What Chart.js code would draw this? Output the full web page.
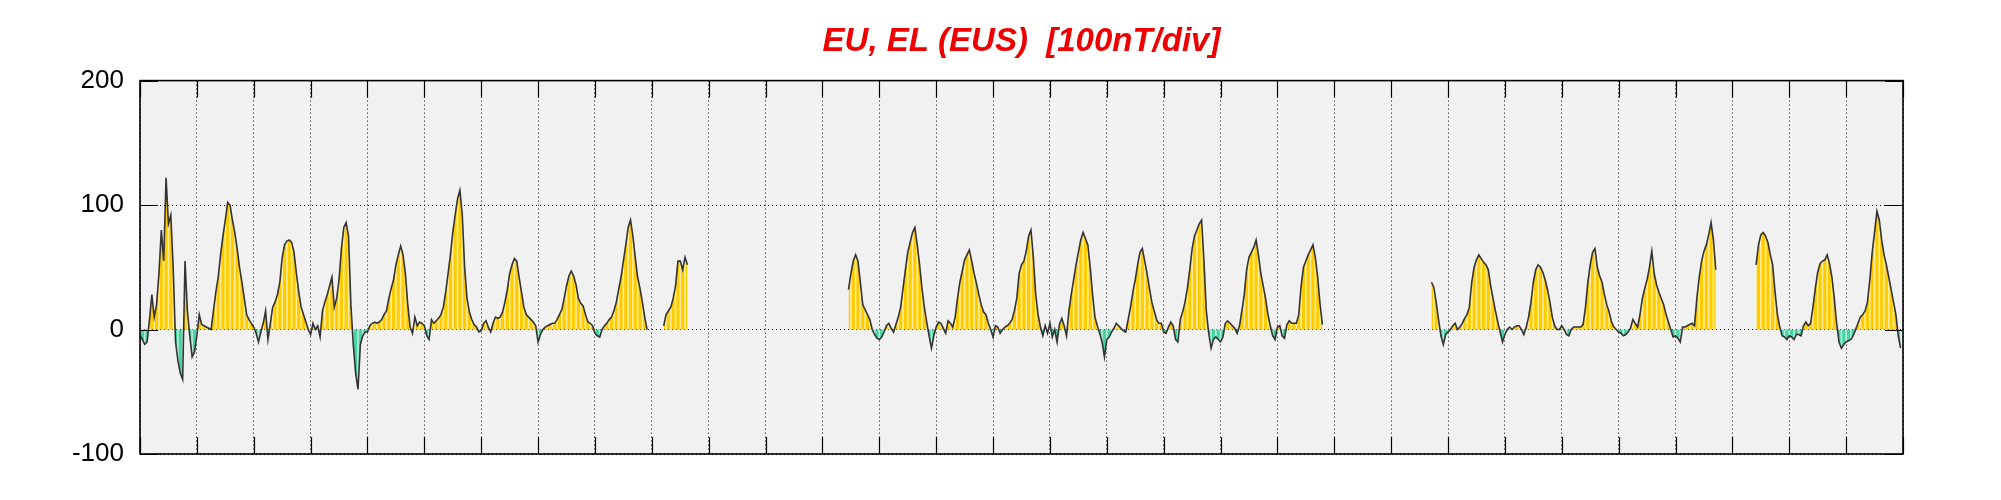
<!DOCTYPE html>
<html>
<head>
<meta charset="utf-8">
<script src="https://cdn.jsdelivr.net/npm/chart.js"></script>
<style>
  html, body { margin: 0; padding: 0; background: #fff; }
  #wrap { width: 2001px; height: 500px; }
</style>
</head>
<body>
<div id="wrap"><canvas id="chartEU"></canvas></div>
<script>
// 31 days of hourly EU/EL values (nT), null where the station has no data
const dayCount = 31;
const hoursPerDay = 24;
const yTicks = [-100, 0, 100, 200];
const titleText = 'EU, EL (EUS)  [100nT/div]';

const euByDay = [
  [-5, -8, -12, -10, 8, 28, 10, 20, 45, 80, 55, 122, 85, 92, 50, -10, -25, -35, -40, 55, 15, -5, -22, -18],
  [-5, 12, 4, 3, 2, 1, 0, 15, 30, 42, 60, 75, 88, 102, 100, 88, 78, 65, 50, 38, 25, 12, 8, 5],
  [2, -3, -10, -2, 5, 15, -8, 5, 18, 22, 28, 38, 58, 68, 71, 72, 70, 62, 45, 30, 18, 12, 6, 0],
  [-4, 5, 0, 3, -6, 15, 22, 28, 35, 42, 18, 25, 40, 65, 82, 86, 75, 20, -12, -35, -48, -12, -5, -2],
  [-2, 3, 5, 6, 5, 6, 8, 12, 15, 25, 33, 40, 52, 60, 67, 60, 45, 20, 2, -3, 10, 3, 6, 5],
  [3, -5, -8, 8, 5, 7, 9, 12, 18, 30, 45, 60, 78, 92, 105, 112, 92, 50, 25, 14, 8, 4, 2, -2],
  [-1, 5, 7, 2, -2, 5, 10, 9, 10, 14, 22, 32, 45, 52, 57, 55, 42, 30, 18, 12, 10, 8, 6, 3],
  [-10, -4, 0, 2, 3, 4, 5, 5, 8, 12, 16, 25, 35, 43, 47, 43, 36, 25, 21, 19, 12, 6, 5, 3],
  [-3, -5, -6, 0, 3, 5, 8, 10, 15, 22, 32, 42, 55, 68, 82, 88, 75, 58, 42, 33, 22, 10, 0, null],
  [null, null, null, null, null, 3, 12, 15, 18, 25, 35, 55, 55, 48, 58, 52, null, null, null, null, null, null, null, null],
  [],
  [],
  [null, null, null, null, null, null, null, null, null, null, null, 32, 45, 55, 60, 55, 38, 20, 16, 12, 8, 0, -4, -7],
  [-8, -6, -2, 3, 5, 1, -2, 4, 10, 18, 33, 48, 62, 70, 78, 82, 68, 52, 33, 18, 6, -5, -15, -5],
  [2, 6, 5, 1, -3, 7, 5, 2, 10, 25, 38, 47, 56, 60, 64, 55, 45, 37, 28, 20, 14, 12, 5, 0],
  [-6, 3, 2, -3, 0, 2, 3, 5, 8, 15, 25, 45, 52, 55, 63, 75, 80, 58, 28, 12, 2, -5, 3, -3],
  [5, -6, 0, -10, 4, 9, 3, -5, 15, 28, 40, 52, 62, 72, 78, 73, 68, 50, 28, 10, 3, -3, -10, -22],
  [-8, -6, -2, 1, 5, 3, 1, -1, -2, 8, 18, 30, 40, 52, 62, 65, 55, 45, 33, 22, 15, 8, 5, 5],
  [-2, -3, 2, 6, 3, -8, -10, 8, 14, 22, 33, 48, 65, 75, 80, 85, 88, 55, 15, -3, -15, -8, -6, -8],
  [-10, -6, 5, 7, 5, 3, 1, -3, 3, 15, 28, 48, 58, 62, 66, 72, 60, 45, 35, 25, 12, 3, -5, -8],
  [2, 3, -5, -7, 4, 7, 5, 5, 5, 12, 35, 50, 55, 60, 64, 68, 58, 42, 20, 4, null, null, null, null],
  [],
  [null, null, null, null, null, null, null, null, null, null, null, null, null, null, null, null, null, 38, 34, 22, 8, -5, -12, -4],
  [-2, 0, 3, 5, 0, 2, 5, 9, 12, 18, 38, 50, 56, 60, 57, 54, 52, 48, 35, 25, 15, 6, -2, -10],
  [-4, 0, 2, 0, 2, 3, 3, 0, -4, 2, 10, 22, 38, 48, 52, 50, 46, 40, 32, 22, 10, 3, 0, 0],
  [3, 0, -4, -5, 0, 2, 2, 2, 2, 4, 18, 38, 52, 62, 65, 50, 43, 38, 28, 20, 14, 6, 2, 0],
  [-2, -3, -5, -4, -2, 1, 8, 5, 2, 12, 25, 33, 40, 50, 63, 45, 36, 30, 25, 20, 12, 6, 0, -6],
  [-5, -7, -10, 2, 2, 3, 4, 5, 3, 25, 42, 55, 63, 68, 76, 86, 72, 48, null, null, null, null, null, null],
  [null, null, null, null, null, null, null, null, null, null, 52, 68, 76, 78, 75, 70, 60, 52, 30, 12, 2, -5, -6, -8],
  [-5, -6, -8, -4, -4, -5, 3, 6, 3, 5, 18, 33, 46, 53, 55, 56, 60, 53, 42, 25, 5, -10, -15, -12],
  [-10, -9, -8, -5, 0, 5, 10, 12, 15, 22, 40, 62, 78, 95, 88, 72, 60, 52, 42, 32, 22, 12, -5, -15]
];

document.addEventListener('DOMContentLoaded', () => {
  // flatten to {x: day, y: nT}; empty days become gaps
  const points = [];
  for (let d = 0; d < dayCount; d++) {
    const row = euByDay[d] || [];
    for (let h = 0; h < hoursPerDay; h++) {
      const v = row[h];
      points.push({ x: d + h / hoursPerDay, y: v === undefined ? null : v });
    }
  }
  // thin light stripes that the original fill shows every two hours
  const stripes = points.filter((p, i) => i % 2 === 0 && p.y !== null && p.y !== 0);
  const dayTicks = Array.from({ length: dayCount + 1 }, (_, i) => i);

  const framePlugin = {
    id: 'frame',
    beforeDraw(chart) {
      const { ctx, chartArea: a } = chart;
      ctx.save();
      ctx.fillStyle = '#f1f1f1';
      ctx.fillRect(a.left, a.top, a.width, a.height);
      ctx.restore();
    },
    afterDraw(chart) {
      const { ctx, chartArea: a, scales: { x, y } } = chart;
      ctx.save();
      ctx.strokeStyle = '#000';
      ctx.lineWidth = 1.2;
      ctx.beginPath();
      x.ticks.forEach(t => {
        const px = Math.round(x.getPixelForValue(t.value)) + 0.5;
        ctx.moveTo(px, a.top); ctx.lineTo(px, a.top + 17);
        ctx.moveTo(px, a.bottom); ctx.lineTo(px, a.bottom - 17);
      });
      y.ticks.forEach(t => {
        const py = Math.round(y.getPixelForValue(t.value)) + 0.5;
        ctx.moveTo(a.left, py); ctx.lineTo(a.left + 18, py);
        ctx.moveTo(a.right, py); ctx.lineTo(a.right - 18, py);
      });
      ctx.stroke();
      ctx.lineWidth = 1.6;
      ctx.strokeRect(a.left, a.top, a.width, a.height);
      ctx.restore();
    }
  };

  new Chart(document.getElementById('chartEU').getContext('2d'), {
    type: 'line',
    data: {
      datasets: [
        {
          type: 'line',
          label: 'EU/EL',
          data: points,
          borderColor: '#333333',
          borderWidth: 1.6,
          pointRadius: 0,
          fill: false,
          spanGaps: false,
          order: 0
        },
        {
          type: 'bar',
          label: 'stripes',
          data: stripes,
          backgroundColor: 'rgba(255,255,255,0.6)',
          barThickness: 1,
          order: 1
        },
        {
          type: 'line',
          label: 'fill',
          data: points,
          borderWidth: 0,
          borderColor: 'rgba(0,0,0,0)',
          pointRadius: 0,
          spanGaps: false,
          fill: { target: { value: 0 }, above: '#ffcc00', below: '#46d3a2' },
          order: 2
        }
      ]
    },
    options: {
      responsive: true,
      maintainAspectRatio: false,
      animation: false,
      layout: { padding: { left: 0, right: 98, top: 0, bottom: 46 } },
      plugins: {
        legend: { display: false },
        tooltip: { enabled: false },
        title: {
          display: true,
          fullSize: false,
          text: titleText,
          color: '#ee0000',
          font: { family: 'Liberation Sans', size: 33, weight: 'bold', style: 'italic' },
          padding: { top: 22, bottom: 19 }
        }
      },
      scales: {
        x: {
          type: 'linear',
          min: 0,
          max: dayCount,
          offset: false,
          afterBuildTicks: (scale) => { scale.ticks = dayTicks.map(v => ({ value: v })); },
          ticks: { display: false, autoSkip: false },
          grid: { color: '#000', lineWidth: 1, drawTicks: false, offset: false },
          border: { display: false, dash: [1, 3] },
          afterFit: (scale) => { scale.height = 0; }
        },
        y: {
          min: yTicks[0],
          max: yTicks[yTicks.length - 1],
          afterBuildTicks: (scale) => { scale.ticks = yTicks.map(v => ({ value: v })); },
          ticks: {
            color: '#000',
            padding: 16,
            font: { family: 'Liberation Sans', size: 26 }
          },
          grid: { color: '#000', lineWidth: 1, drawTicks: false },
          border: { display: false, dash: [1, 3] },
          afterFit: (scale) => { scale.width = 140; }
        }
      }
    },
    plugins: [framePlugin]
  });
});
</script>
</body>
</html>
